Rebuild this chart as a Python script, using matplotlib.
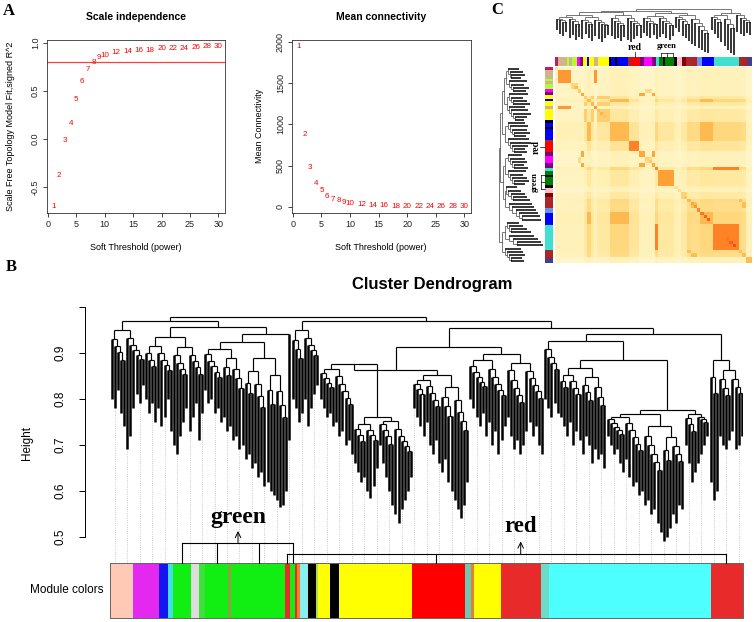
import matplotlib
matplotlib.use("Agg")
import matplotlib.pyplot as plt
import matplotlib.ticker as ticker
from matplotlib.collections import LineCollection
from matplotlib.colors import LinearSegmentedColormap
import numpy as np

plt.rcParams['font.family'] = ['Liberation Sans', 'DejaVu Sans']
plt.rcParams['axes.unicode_minus'] = False

W, H = 754, 622

# ---------------- panel A data ----------------
powers = [1, 2, 3, 4, 5, 6, 7, 8, 9, 10, 12, 14, 16, 18, 20, 22, 24, 26, 28, 30]
sft_r2 = [-0.705, -0.385, -0.02, 0.156, 0.41, 0.594, 0.72, 0.79, 0.84, 0.865,
          0.90, 0.906, 0.917, 0.917, 0.934, 0.934, 0.94, 0.945, 0.958, 0.96]
mean_k = [1950, 878, 471, 288, 194, 125, 93, 72, 56, 44,
          27, 17, 12, 8, 6, 4, 3, 2, 1.5, 1]
r2_cut = 0.8

# ---------------- panel B data ----------------
# tree: [height, child, child] ; tuple = leaf bottoms of a dense fringe
b_left1 = (0.80, 0.78, 0.82, 0.77, 0.74, 0.69, 0.72, 0.78, 0.81, 0.79, 0.83)
b_left2 = (0.80, 0.77, 0.79, 0.75, 0.78, 0.74, 0.76, 0.80, 0.73, 0.70, 0.68, 0.72,
           0.75, 0.78, 0.73, 0.76, 0.79, 0.71, 0.77)
b_left3 = (0.82, 0.79, 0.80, 0.77, 0.78, 0.75, 0.76, 0.73, 0.74, 0.71, 0.72, 0.69,
           0.70, 0.67, 0.68, 0.65, 0.66, 0.63, 0.64, 0.61, 0.62, 0.60, 0.59, 0.58,
           0.565, 0.57, 0.60)
b_r0 = (0.80, 0.78, 0.75, 0.77, 0.80, 0.74, 0.78, 0.81, 0.83)
b_spine1 = (0.80, 0.78, 0.76, 0.77, 0.74, 0.75, 0.72, 0.73, 0.70, 0.71, 0.68)
b_spine2 = (0.66, 0.64, 0.62, 0.63, 0.60, 0.585, 0.61, 0.65)
b_c375 = (0.70, 0.66, 0.63, 0.60, 0.57, 0.55, 0.53, 0.56, 0.58, 0.60, 0.63)
b_c413 = (0.78, 0.76, 0.74, 0.72, 0.75, 0.70, 0.68, 0.71, 0.66, 0.64, 0.67, 0.62,
          0.60, 0.58, 0.56, 0.54, 0.57, 0.62)
b_c472 = (0.80, 0.78, 0.76, 0.74, 0.77, 0.72, 0.75, 0.70, 0.73, 0.68, 0.71, 0.74,
          0.76, 0.72, 0.69, 0.71, 0.68, 0.70, 0.73, 0.75, 0.72, 0.74, 0.70, 0.68)
b_stair0 = (0.80, 0.78, 0.76, 0.79, 0.77)
b_stair1 = (0.76, 0.74, 0.72, 0.75, 0.70, 0.73, 0.71, 0.68, 0.72, 0.70, 0.66, 0.69,
            0.67, 0.68, 0.65)
b_stair2 = (0.72, 0.70, 0.68, 0.69, 0.66, 0.64, 0.67, 0.63, 0.61, 0.62, 0.59, 0.60,
            0.57, 0.58, 0.55, 0.56, 0.53, 0.51, 0.49, 0.50, 0.52, 0.55, 0.53, 0.57, 0.56)
b_stair3 = (0.70, 0.66, 0.62, 0.64, 0.66, 0.68, 0.70, 0.72)
b_last1 = (0.62, 0.58, 0.60)
b_last2 = (0.72, 0.70, 0.69, 0.71, 0.73, 0.69, 0.70, 0.72)

b_tree = [0.978,
          [0.968, b_left1, [0.955, b_left2, [0.94, b_left3, 0.71]]],
          [0.968, b_r0,
           [0.953,
            [0.913, [0.862, [0.875, b_spine1, [0.76, b_spine2, b_c375]], b_c413], b_c472],
            [0.94, [0.925, b_stair0, [0.885, b_stair1, [0.775, b_stair2, b_stair3]]],
             [0.884, b_last1, b_last2]]]]]

b_mod_colors = ['#FFC9B5', '#E328EF', '#1515F0', '#40E0E0', '#11EE11', '#DDDDDD',
                '#3DE03D', '#11EE11', '#8FA040', '#11EE11', '#E82A2A', '#11EE11',
                '#E82A2A', '#F08030', '#88EEEE', '#000000', '#AADD55', '#FFFF00',
                '#000000', '#FFFF00', '#FF0000', '#70C8B0', '#E08030', '#FFFF00',
                '#E82A2A', '#6CDCC8', '#4DFFFF', '#E82A2A']
b_mod_widths = [23.3, 26, 9, 4.4, 18.3, 8, 6, 23.3, 2.4, 54.3, 5, 5, 2.3, 2.7, 8.3,
                7.7, 2.3, 11.7, 9.3, 73, 52.7, 5.7, 3.3, 26.7, 40, 8.3, 162.3, 32]

# ---------------- panel C data ----------------
c_a = (0.78, 0.74, 0.72, 0.76, 0.70, 0.73, 0.68, 0.71, 0.69, 0.74, 0.70, 0.67,
       0.72, 0.69, 0.66, 0.70, 0.73)
c_b = (0.72, 0.69, 0.70, 0.67, 0.71, 0.68, 0.66, 0.69, 0.72, 0.70)
c_c = (0.75, 0.72, 0.70, 0.73, 0.69, 0.71, 0.74, 0.70, 0.68, 0.72)
c_d = (0.80, 0.76, 0.72, 0.70, 0.67, 0.64, 0.62, 0.60, 0.58, 0.56, 0.55)
c_e = (0.78, 0.74, 0.70, 0.66, 0.62, 0.58, 0.55, 0.53)
c_f = (0.76, 0.74, 0.72, 0.75, 0.73)
c_tree = [0.99, [0.975, [0.96, c_a, c_b], [0.95, c_c, c_d]], [0.955, c_e, c_f]]

c_seg_colors = ['mediumvioletred', 'brown', 'tan', 'greenyellow', 'tan', 'greenyellow',
                'magenta', 'purple', 'yellow', 'blue', 'yellow', 'tan', 'yellow',
                'black', 'blue', 'black', 'blue', 'brown', 'red', 'purple', 'magenta',
                'purple', 'turquoise', 'green', 'black', 'green', 'black', 'pink',
                'darkred', 'brown', 'firebrick', 'cornflowerblue', 'blue', 'turquoise',
                'brown', 'firebrick', 'darkslateblue']
c_seg_widths = [1.7, 1.7, 8.3, 2.7, 2.3, 5.7, 2.7, 3.3, 4, 2, 4.7, 3.3, 11, 2.3, 4.3,
                2.3, 11, 2.3, 9.3, 4, 7.7, 4.3, 3.3, 4, 1.7, 8.3, 3.3, 5, 4.3, 5.7,
                5, 5, 11.7, 25, 4.3, 4, 5]
# overlap inside a module, and between-module overlap seen as stripes
c_self = {'mediumvioletred': 0.3, 'brown': 0.5, 'tan': 0.65, 'greenyellow': 0.35,
          'magenta': 0.35, 'purple': 0.6, 'yellow': 0.42, 'blue': 0.52, 'black': 0.3,
          'red': 0.72, 'turquoise': 0.72, 'green': 0.62, 'pink': 0.25, 'darkred': 0.4,
          'firebrick': 0.5, 'cornflowerblue': 0.45, 'darkslateblue': 0.5}
c_cross = {'blue': 0.62, 'turquoise': 0.6, 'brown': 0.58, 'firebrick': 0.55,
           'cornflowerblue': 0.55, 'yellow': 0.42, 'red': 0.45, 'green': 0.42,
           'black': 0.32, 'darkred': 0.4}


def px_axes(fig, l, t, r, b):
    return fig.add_axes([l / W, 1 - b / H, (r - l) / W, (b - t) / H])


def fringe_node(vals, parent_h):
    # turn a run of leaf bottoms into a nested sub-tree hanging under parent_h:
    # balanced splits for long runs, descending ladders for short ones
    if len(vals) == 1:
        return vals[0]
    m = max(vals)
    h = m + 0.86 * (parent_h - m)
    if len(vals) <= 6:
        return [h, vals[0], fringe_node(vals[1:], h)]
    k = len(vals) // 2
    return [h, fringe_node(vals[:k], h), fringe_node(vals[k:], h)]


def walk(node, parent_h, st):
    if isinstance(node, tuple):
        node = fringe_node(list(node), parent_h)
    if not isinstance(node, list):
        x = st['n']
        st['n'] += 1
        st['leaves'].append((x, node))
        return x, node, [x]
    h = node[0]
    xs, groups = [], []
    for child in node[1:]:
        cx, ch, ids = walk(child, h, st)
        key = 'leafsegs' if len(ids) == 1 else 'segs'
        st[key].append([(cx, ch), (cx, h)])
        xs.append(cx)
        groups.append(ids)
    st['segs'].append([(xs[0], h), (xs[-1], h)])
    for a in range(len(groups)):
        for b in range(a + 1, len(groups)):
            st['pairs'].append((groups[a], groups[b], h))
    return (xs[0] + xs[-1]) / 2, h, sum(groups, [])


def tree_lines(tree):
    st = {'n': 0, 'leaves': [], 'segs': [], 'leafsegs': [], 'pairs': []}
    walk(tree, tree[0], st)
    return st


fig = plt.figure(figsize=(W / 100, H / 100), dpi=100)

# ---------------- A: scale independence / mean connectivity ----------------
def style_small(ax):
    for s in ax.spines.values():
        s.set_linewidth(0.6)
        s.set_color('#333333')
    ax.tick_params(labelsize=6.5, length=3, width=0.6, pad=2, colors='#222222')
    for lab in ax.get_yticklabels():
        lab.set_rotation(90)
        lab.set_va('center')

ax1 = px_axes(fig, 47, 40, 225, 213)
for p, v in zip(powers, sft_r2):
    ax1.text(p, v, str(p), color='red', fontsize=5.8, ha='center', va='center')
ax1.axhline(r2_cut, color='#FF4040', lw=0.9)
ax1.set_xlim(-0.16, 31.16)
ax1.set_ylim(-0.772, 1.027)
ax1.set_xticks(range(0, 31, 5))
ax1.set_yticks([-0.5, 0, 0.5, 1.0])
ax1.yaxis.set_major_formatter(ticker.FormatStrFormatter('%.1f'))
style_small(ax1)

ax2 = px_axes(fig, 292, 40, 471, 213)
for p, v in zip(powers, mean_k):
    ax2.text(p, v, str(p), color='red', fontsize=5.8, ha='center', va='center')
ax2.set_xlim(-0.16, 31.16)
ax2.set_ylim(-77, 2028)
ax2.set_xticks(range(0, 31, 5))
ax2.set_yticks([0, 500, 1000, 1500, 2000])
style_small(ax2)

# ---------------- B: cluster dendrogram ----------------
btree = tree_lines(b_tree)
nb = btree['n']
axb = px_axes(fig, 110, 300, 743.3, 545)
axb.add_collection(LineCollection(btree['segs'], colors='black', linewidths=0.85))
axb.add_collection(LineCollection(btree['leafsegs'], colors='black', linewidths=1.8))
guides = [[(x, h), (x, 0.443)] for x, h in btree['leaves'][1::4]]
axb.add_collection(LineCollection(guides, colors='#BBBBBB', linewidths=0.6,
                                  linestyles=':', clip_on=False, zorder=0))
axb.set_xlim(-0.5, nb - 0.5)
axb.set_ylim(0.482, 1.0146)
axb.patch.set_alpha(0)
for k in ['top', 'right', 'bottom']:
    axb.spines[k].set_visible(False)
axb.spines['left'].set_position(('outward', 18))
axb.spines['left'].set_bounds(0.5, 1.0)
axb.spines['left'].set_linewidth(0.7)
axb.set_xticks([])
axb.set_yticks([0.5, 0.6, 0.7, 0.8, 0.9, 1.0])
axb.set_yticklabels(['0.5', '0.6', '0.7', '0.8', '0.9', ''])
axb.tick_params(axis='y', labelsize=8.5, length=4, width=0.7, pad=9)
for lab in axb.get_yticklabels():
    lab.set_rotation(90)
    lab.set_va('center')

axbar = px_axes(fig, 110, 563, 743.3, 618)
left = 0
for col, w in zip(b_mod_colors, b_mod_widths):
    axbar.bar(left, 1, width=w, color=col, align='edge', linewidth=0)
    left += w
axbar.set_xlim(0, sum(b_mod_widths))
axbar.set_ylim(0, 1)
axbar.set_xticks([])
axbar.set_yticks([])
for s in axbar.spines.values():
    s.set_linewidth(0.7)
    s.set_color('#666666')

# ---------------- C: TOM plot ----------------
ctree = tree_lines(c_tree)
nc = ctree['n']
axct = px_axes(fig, 555, 5, 752, 57)
axct.add_collection(LineCollection(ctree['segs'], colors='#404040', linewidths=0.5))
axct.add_collection(LineCollection(ctree['leafsegs'], colors='black', linewidths=1.1))
axct.set_xlim(-0.5, nc - 0.5)
axct.set_ylim(0.51, 1.03)
axct.axis('off')

axcl = px_axes(fig, 495, 67, 545, 263)
rot = [[(h, x) for x, h in seg] for seg in ctree['segs']]
rot_leaf = [[(h, x) for x, h in seg] for seg in ctree['leafsegs']]
axcl.add_collection(LineCollection(rot, colors='#404040', linewidths=0.5))
axcl.add_collection(LineCollection(rot_leaf, colors='black', linewidths=1.1))
axcl.set_ylim(nc - 0.5, -0.5)
axcl.set_xlim(1.03, 0.51)
axcl.axis('off')

# overlap: merge height of each leaf pair, module blocks and module cross-talk
coph = np.ones((nc, nc))
for ga, gb, h in ctree['pairs']:
    coph[np.ix_(ga, gb)] = h
    coph[np.ix_(gb, ga)] = h
for x, h in ctree['leaves']:
    coph[x, x] = h
edges = np.concatenate([[0], np.cumsum(c_seg_widths)]) / sum(c_seg_widths)
leaf_mod = [c_seg_colors[np.searchsorted(edges, (i + 0.5) / nc) - 1] for i in range(nc)]
cross = np.array([c_cross.get(m, 0.24) for m in leaf_mod])
block = np.array([[c_self[a] if a == b else 0 for b in leaf_mod] for a in leaf_mod])
tom = 0.9 * np.clip((1 - coph) / 0.47, 0, 1) ** 1.5
tom = np.maximum(np.maximum(tom, block), np.outer(cross, cross))

tom_cmap = LinearSegmentedColormap.from_list(
    'tom', ['#FFF8D2', '#FFEFB0', '#FFD475', '#FFA83A', '#FF6A1C', '#F03010'])
axh = px_axes(fig, 555, 67, 752, 263)
axh.imshow(tom, cmap=tom_cmap, vmin=0, vmax=1, aspect='auto', interpolation='nearest')
axh.axis('off')

axtb = px_axes(fig, 555, 57, 752, 66)
axlb = px_axes(fig, 545, 67, 553, 263)
for k in range(len(c_seg_colors)):
    axtb.bar(edges[k], 1, width=edges[k + 1] - edges[k], color=c_seg_colors[k],
             align='edge', linewidth=0)
    axlb.barh(edges[k], 1, height=edges[k + 1] - edges[k], color=c_seg_colors[k],
              align='edge', linewidth=0)
axtb.set_xlim(0, 1)
axtb.set_ylim(0, 1)
axtb.axis('off')
axlb.set_ylim(1, 0)
axlb.set_xlim(0, 1)
axlb.axis('off')

# ---------------- overlay text / annotations ----------------
ov = fig.add_axes([0, 0, 1, 1], zorder=10)
ov.set_xlim(0, W)
ov.set_ylim(H, 0)
ov.axis('off')
ov.patch.set_alpha(0)
serif = ['Liberation Serif', 'DejaVu Serif']

ov.text(9, 11, 'A', family=serif, weight='bold', fontsize=12, ha='center', va='center')
ov.text(11, 267, 'B', family=serif, weight='bold', fontsize=12, ha='center', va='center')
ov.text(497, 10, 'C', family=serif, weight='bold', fontsize=12, ha='center', va='center')

ov.text(136, 17, 'Scale independence', weight='bold', fontsize=7.5, ha='center', va='center')
ov.text(381, 17, 'Mean connectivity', weight='bold', fontsize=7.5, ha='center', va='center')
ov.text(136, 248, 'Soft Threshold (power)', fontsize=6.5, ha='center', va='center')
ov.text(381, 248, 'Soft Threshold (power)', fontsize=6.5, ha='center', va='center')
ov.text(11, 126, 'Scale Free Topology Model Fit,signed R^2', fontsize=6.5,
        rotation=90, ha='center', va='center')
ov.text(259, 126, 'Mean Connectivity', fontsize=6.5, rotation=90, ha='center', va='center')

ov.text(432, 285, 'Cluster Dendrogram', weight='bold', fontsize=12, ha='center', va='center')
ov.text(27, 443, 'Height', fontsize=8.5, rotation=90, ha='center', va='center')
ov.text(103, 590, 'Module colors', fontsize=8.5, ha='right', va='center')

lk = dict(color='black', lw=0.8)
ov.plot([182, 293], [542.7, 542.7], **lk)
for x in [182, 217, 259, 293]:
    ov.plot([x, x], [542.7, 563], **lk)
ov.annotate('', xy=(238, 531), xytext=(238, 542.7),
            arrowprops=dict(arrowstyle='->', lw=0.7, color='black', shrinkA=0, shrinkB=0))
ov.text(238, 518, 'green', family=serif, weight='bold', fontsize=17, ha='center', va='center')
ov.plot([287, 725.7], [554.3, 554.3], **lk)
for x in [287, 436, 725.7]:
    ov.plot([x, x], [554.3, 563], **lk)
ov.annotate('', xy=(520.7, 541.5), xytext=(520.7, 554.3),
            arrowprops=dict(arrowstyle='->', lw=0.7, color='black', shrinkA=0, shrinkB=0))
ov.text(520.7, 527, 'red', family=serif, weight='bold', fontsize=16.5, ha='center', va='center')

sk = dict(color='black', lw=0.5)
ov.text(635, 47, 'red', family=serif, weight='bold', fontsize=7, ha='center', va='center')
ov.plot([635, 635], [52, 57], **sk)
ov.text(667, 46, 'green', family=serif, weight='bold', fontsize=6, ha='center', va='center')
ov.plot([661, 673], [53, 53], **sk)
for x in [661, 667, 673]:
    ov.plot([x, x], [53, 57], **sk)
ov.text(536, 147, 'red', family=serif, weight='bold', fontsize=7, rotation=90,
        ha='center', va='center')
ov.plot([540, 545], [147, 147], **sk)
ov.text(535, 182, 'green', family=serif, weight='bold', fontsize=6, rotation=90,
        ha='center', va='center')
ov.plot([541, 541], [175, 189], **sk)
for y in [175, 182, 189]:
    ov.plot([541, 545], [y, y], **sk)

fig.savefig('out.png', dpi=100)
